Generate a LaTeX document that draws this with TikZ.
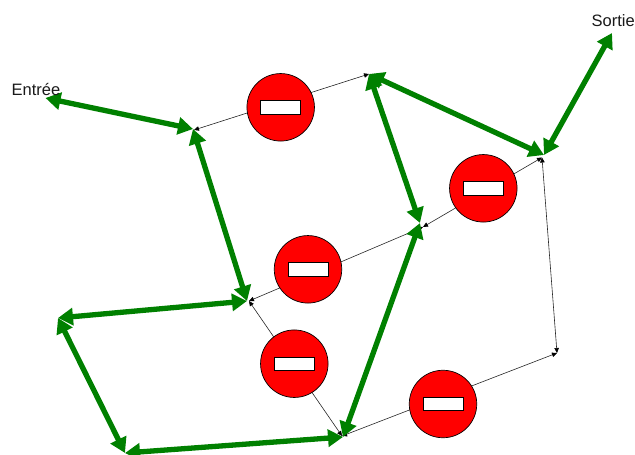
\documentclass[tikz,border=0pt]{standalone}
\usepackage{fontspec}
\setmainfont{Liberation Sans}
\usetikzlibrary{arrows.meta}
\definecolor{routegreen}{HTML}{008000}
\tikzset{
  route/.style={draw=routegreen,line width=5.3pt,{Triangle[length=15pt,width=17pt]}-{Triangle[length=15pt,width=17pt]}},
  thin both/.style={draw=black!85,line width=0.6pt,{Triangle[length=5pt,width=4.5pt,color=black]}-{Triangle[length=5pt,width=4.5pt,color=black]}},
  noentry/.style={circle,draw=black,fill=red,line width=0.7pt,minimum size=67.5pt,inner sep=0pt},
  bar/.style={draw=black,fill=white,line width=0.7pt,minimum width=40pt,minimum height=13.5pt,inner sep=0pt},
  label/.style={font=\fontsize{16.5pt}{18pt}\selectfont,inner sep=0pt,text=black!90}
}
\begin{document}
\begin{tikzpicture}[x=1pt,y=-1pt]
\useasboundingbox (0,0) rectangle (635,455);
\coordinate (in) at (45.5,98);
\coordinate (out) at (612,33);
\coordinate (a) at (194,130);
\coordinate (ag) at (193,129);
\coordinate (b) at (249,301);
\coordinate (bg) at (247,301);
\coordinate (c) at (342,436);
\coordinate (cg) at (343,437);
\coordinate (d) at (423,227);
\coordinate (dg) at (420,223);
\coordinate (e) at (369,74);
\coordinate (f) at (542,157.5);
\coordinate (fg) at (544,155);
\coordinate (g) at (557,353);
\coordinate (h) at (58,318);
\coordinate (k) at (125,453);
% thin links
\draw[thin both] (a) -- (e);
\draw[thin both] (b) -- (d);
\draw[thin both] (b) -- (c);
\draw[thin both] (d) -- (f);
\draw[thin both] (f) -- (g);
\draw[thin both] (g) -- (c);
% prohibition signs
\node[noentry] (s1) at (280.7,107.3) {};
\node[bar] (r1) at (s1) {};
\node[noentry] (s2) at (308,269.3) {};
\node[bar] (r2) at (s2) {};
\node[noentry] (s3) at (294.3,363.7) {};
\node[bar] (r3) at (s3) {};
\node[noentry] (s4) at (483.3,188.3) {};
\node[bar] (r4) at (s4) {};
\node[noentry] (s5) at (443,404) {};
\node[bar] (r5) at (s5) {};
% thick routes
\draw[route] (in) -- (ag);
\draw[route] (ag) -- (bg);
\draw[route] (h) -- (bg);
\draw[route] (h) -- (k);
\draw[route] (k) -- (cg);
\draw[route] (cg) -- (dg);
\draw[route] (dg) -- (e);
\draw[route] (e) -- (fg);
\draw[route] (fg) -- (out);
% labels
\node[label,anchor=base west] (entree) at (11.5,95) {Entrée};
\node[label,anchor=base west] (sortie) at (591.5,27) {Sortie};
\end{tikzpicture}
\end{document}
